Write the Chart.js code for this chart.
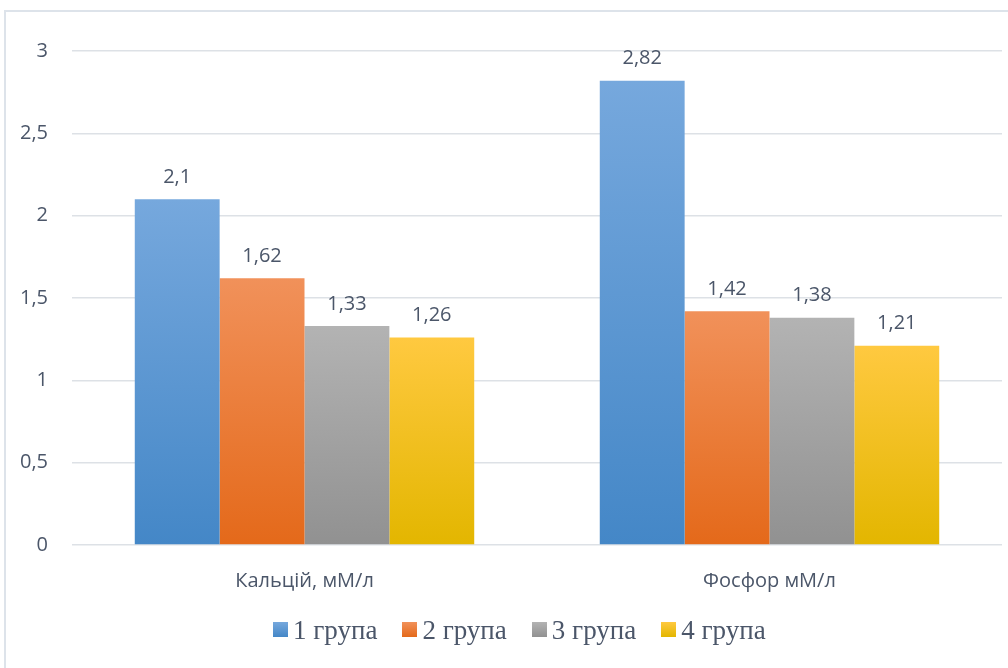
<!DOCTYPE html>
<html>
<head>
<meta charset="utf-8">
<script src="https://cdn.jsdelivr.net/npm/chart.js@4"></script>
<style>
    html, body { margin: 0; padding: 0; background: #fff; }
    #wrap { position: relative; width: 1008px; height: 668px; overflow: hidden; }
    #frame {
        position: absolute; left: 4px; top: 10px; width: 1020px; height: 700px;
        border-left: 2px solid #dde3ea; border-top: 2px solid #dde3ea;
    }
    canvas { position: absolute; left: 0; top: 0; }
    #legend {
        position: absolute; left: 273px; top: 615px; display: flex; align-items: center;
        font: 27px 'Liberation Serif', serif; color: #4b5669; line-height: 30px; white-space: nowrap;
    }
    #legend .item { display: flex; align-items: center; margin-right: 25px; }
    #legend .box { width: 15px; height: 15px; margin-right: 5px; margin-top: -2px; }
</style>
</head>
<body>
<div id="wrap">
    <div id="frame"></div>
    <canvas id="chart" width="1008" height="668"></canvas>
    <div id="legend"></div>
</div>
<script>
// Data
const categories = ['Кальцій, мМ/л', 'Фосфор мМ/л'];
const groupNames = ['1 група', '2 група', '3 група', '4 група'];
const group1 = [2.1, 2.82];
const group2 = [1.62, 1.42];
const group3 = [1.33, 1.38];
const group4 = [1.26, 1.21];

// Bar colours: [top, bottom] of the vertical gradient
const palette = [
    ['#76a8dd', '#4487c7'],
    ['#f1915a', '#e4691a'],
    ['#b3b3b3', '#919191'],
    ['#ffc940', '#e3b600']
];

const labelColor = '#4b5669';
const sansFamily = "'Open Sans', sans-serif";

// Per-bar vertical gradient
function barFill(idx) {
    return (ctx) => {
        const chart = ctx.chart;
        const yScale = chart.scales.y;
        if (!chart.chartArea || !yScale || ctx.parsed == null) return palette[idx][0];
        const top = yScale.getPixelForValue(ctx.parsed.y);
        const bottom = yScale.getPixelForValue(0);
        const g = chart.ctx.createLinearGradient(0, top, 0, bottom);
        g.addColorStop(0, palette[idx][0]);
        g.addColorStop(1, palette[idx][1]);
        return g;
    };
}

// Simple data-label plugin (values with decimal comma)
const valueLabels = {
    id: 'valueLabels',
    afterDatasetsDraw(chart) {
        const ctx = chart.ctx;
        ctx.save();
        ctx.font = '20px ' + sansFamily;
        ctx.fillStyle = labelColor;
        ctx.textAlign = 'center';
        ctx.textBaseline = 'bottom';
        chart.data.datasets.forEach((ds, i) => {
            chart.getDatasetMeta(i).data.forEach((bar, j) => {
                const txt = String(ds.data[j]).replace('.', ',');
                ctx.fillText(txt, bar.x, bar.y - 12);
            });
        });
        ctx.restore();
    }
};

// HTML legend built from the chart's datasets
const htmlLegend = {
    id: 'htmlLegend',
    afterUpdate(chart) {
        const box = document.getElementById('legend');
        box.innerHTML = '';
        chart.data.datasets.forEach((ds, i) => {
            const item = document.createElement('div');
            item.className = 'item';
            const sw = document.createElement('span');
            sw.className = 'box';
            sw.style.background = `linear-gradient(${palette[i][0]}, ${palette[i][1]})`;
            const txt = document.createElement('span');
            txt.textContent = ds.label;
            item.appendChild(sw);
            item.appendChild(txt);
            box.appendChild(item);
        });
    }
};

const series = [group1, group2, group3, group4];

function draw() {
    new Chart(document.getElementById('chart').getContext('2d'), {
        type: 'bar',
        data: {
            labels: categories,
            datasets: series.map((data, i) => ({
                label: groupNames[i],
                data: data,
                backgroundColor: barFill(i),
                borderWidth: 0,
                categoryPercentage: 0.73,
                barPercentage: 1.0
            }))
        },
        options: {
            responsive: false,
            animation: false,
            layout: { padding: { left: 0, right: 6, top: 51, bottom: 51 } },
            plugins: {
                tooltip: { enabled: false },
                legend: { display: false }
            },
            scales: {
                x: {
                    grid: { display: false, drawTicks: false },
                    border: { display: false },
                    ticks: {
                        font: { family: sansFamily, size: 20 },
                        color: labelColor,
                        padding: 24
                    }
                },
                y: {
                    min: 0,
                    max: 3,
                    afterFit(scale) { scale.width = 72; },
                    grid: { color: '#dde1e6', lineWidth: 1.5, drawTicks: false },
                    border: { display: false },
                    ticks: {
                        stepSize: 0.5,
                        font: { family: sansFamily, size: 20 },
                        color: labelColor,
                        padding: 24,
                        callback: (v) => String(v).replace('.', ',')
                    }
                }
            }
        },
        plugins: [valueLabels, htmlLegend]
    });
}

Promise.all([
    document.fonts.load('27px "Liberation Serif"'),
    document.fonts.load('20px "Open Sans"')
]).then(draw, draw);
</script>
</body>
</html>
